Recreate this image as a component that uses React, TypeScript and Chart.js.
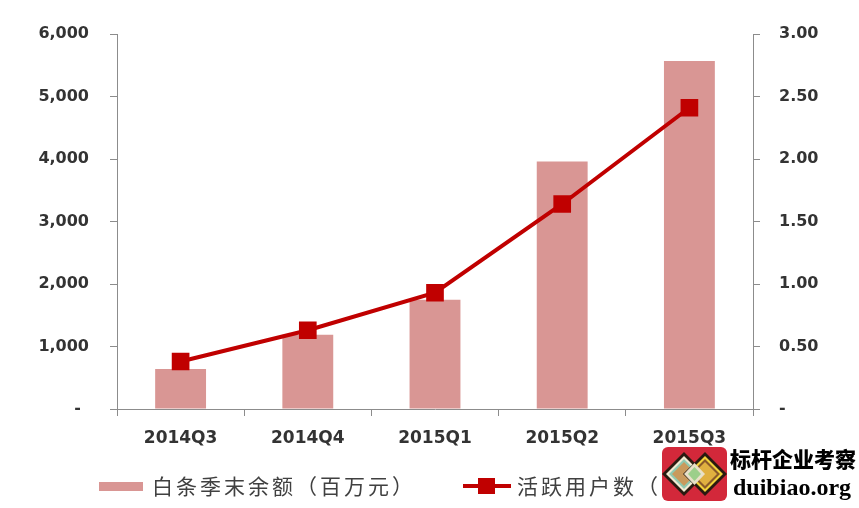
import React, { useEffect, useRef } from "react";
import { Chart, registerables } from "chart.js";

Chart.register(...registerables);

const categories = ["2014Q3", "2014Q4", "2015Q1", "2015Q2", "2015Q3"];
const balanceValues = [640, 1190, 1750, 3960, 5570];
const activeUsers = [0.38, 0.63, 0.93, 1.64, 2.41];
const balanceLabel = "白条季末余额（百万元）";
const usersLabel = "活跃用户数（百万）";

const BAR_COLOR = "#d99694";
const LINE_COLOR = "#c00000";
const AXIS_COLOR = "#8c8c8c";
const TICK_FONT = { family: "'DejaVu Sans'", size: 16, weight: "bold" as const };
const X_FONT = { family: "'DejaVu Sans'", size: 17, weight: "bold" as const };

export default function App() {
  const ref = useRef<HTMLCanvasElement | null>(null);

  useEffect(() => {
    if (!ref.current) return;
    const chart = new Chart(ref.current, {
      data: {
        labels: categories,
        datasets: [
          {
            type: "line",
            label: usersLabel,
            data: activeUsers,
            yAxisID: "y1",
            borderColor: LINE_COLOR,
            backgroundColor: LINE_COLOR,
            borderWidth: 4,
            pointStyle: "rect",
            pointRadius: 12.5,
            pointBorderWidth: 0,
            pointBackgroundColor: LINE_COLOR,
            tension: 0,
            order: 0,
          },
          {
            type: "bar",
            label: balanceLabel,
            data: balanceValues,
            yAxisID: "y",
            backgroundColor: BAR_COLOR,
            barPercentage: 0.4,
            categoryPercentage: 1,
            order: 1,
          },
        ],
      },
      options: {
        animation: false,
        responsive: false,
        maintainAspectRatio: false,
        layout: { padding: { top: 34, left: 0, right: 0, bottom: 0 } },
        plugins: { legend: { display: false }, tooltip: { enabled: false } },
        scales: {
          x: {
            offset: true,
            grid: {
              display: true,
              drawOnChartArea: false,
              drawTicks: true,
              tickLength: 7,
              offset: true,
              color: AXIS_COLOR,
            },
            border: { display: true, color: AXIS_COLOR, width: 1 },
            ticks: { color: "#333", font: X_FONT, padding: 12 },
            afterFit: (s: any) => {
              s.height = 99;
            },
          },
          y: {
            position: "left",
            min: 0,
            max: 6000,
            ticks: {
              stepSize: 1000,
              color: "#333",
              font: TICK_FONT,
              padding: 21,
              callback: (v: any) => (Number(v) === 0 ? "-\u2002" : Number(v).toLocaleString("en-US")),
            },
            grid: { display: true, drawOnChartArea: false, drawTicks: true, tickLength: 7, color: AXIS_COLOR },
            border: { display: true, color: AXIS_COLOR, width: 1 },
            afterFit: (s: any) => {
              s.width = 117;
            },
          },
          y1: {
            position: "right",
            min: 0,
            max: 3,
            ticks: {
              stepSize: 0.5,
              color: "#333",
              font: TICK_FONT,
              padding: 19,
              callback: (v: any) => (Number(v) === 0 ? "-" : Number(v).toFixed(2)),
            },
            grid: { display: true, drawOnChartArea: false, drawTicks: true, tickLength: 7, color: AXIS_COLOR },
            border: { display: true, color: AXIS_COLOR, width: 1 },
            afterFit: (s: any) => {
              s.width = 106;
            },
          },
        },
      },
    });
    return () => chart.destroy();
  }, []);

  const legendText: React.CSSProperties = {
    position: "absolute",
    fontFamily: "'Noto Sans CJK SC'",
    fontSize: 21,
    letterSpacing: 3,
    color: "#404040",
    lineHeight: "24px",
    whiteSpace: "nowrap",
  };

  return (
    <div style={{ position: "absolute", left: 0, top: 0, width: 859, height: 508, background: "#fff", overflow: "hidden" }}>
      <canvas ref={ref} width={859} height={508} style={{ position: "absolute", left: 0, top: 0, width: 859, height: 508 }} />
      {/* Legend */}
      <div style={{ position: "absolute", left: 99, top: 482, width: 44, height: 9, background: BAR_COLOR }} />
      <div style={{ ...legendText, left: 152, top: 473 }}>{balanceLabel}</div>
      <div style={{ position: "absolute", left: 463, top: 484, width: 48, height: 4, background: LINE_COLOR }} />
      <div style={{ position: "absolute", left: 478, top: 478, width: 17, height: 16, background: LINE_COLOR }} />
      <div style={{ ...legendText, left: 517, top: 473 }}>{usersLabel}</div>
      {/* Watermark logo */}
      <div style={{ position: "absolute", left: 662, top: 447, width: 65, height: 54, background: "#d3283a", borderRadius: 6 }}>
        <svg width="65" height="54" viewBox="0 0 65 54">
          <polygon points="22,5 44,27 22,49 0,27" fill="#2a1a10" />
          <polygon points="22,9 40,27 22,45 4,27" fill="#f3ead2" />
          <polygon points="22,12 37,27 22,42 7,27" fill="#8fc9b0" />
          <polygon points="22,15 34,27 22,39 10,27" fill="#c99a5c" />
          <polygon points="43,5 65,27 43,49 21,27" fill="#2a1a10" />
          <polygon points="43,9 61,27 43,45 25,27" fill="#f2d23a" />
          <polygon points="43,12 58,27 43,42 28,27" fill="#8a5a2a" />
          <polygon points="43,15 55,27 43,39 31,27" fill="#e0b040" />
          <polygon points="32.5,16 43,27 32.5,38 22,27" fill="#e8e0c8" />
          <polygon points="32.5,20 39,27 32.5,34 26,27" fill="#9ccf8a" />
        </svg>
      </div>
      <div
        style={{
          position: "absolute",
          left: 730,
          top: 444,
          fontFamily: "'Noto Sans CJK SC'",
          fontWeight: 900,
          fontSize: 21,
          lineHeight: "28px",
          color: "#000",
          whiteSpace: "nowrap",
        }}
      >
        标杆企业考察
      </div>
      <div
        style={{
          position: "absolute",
          left: 733,
          top: 473,
          fontFamily: "'Liberation Serif'",
          fontWeight: "bold",
          fontSize: 24,
          lineHeight: "28px",
          color: "#000",
          whiteSpace: "nowrap",
        }}
      >
        duibiao.org
      </div>
    </div>
  );
}
